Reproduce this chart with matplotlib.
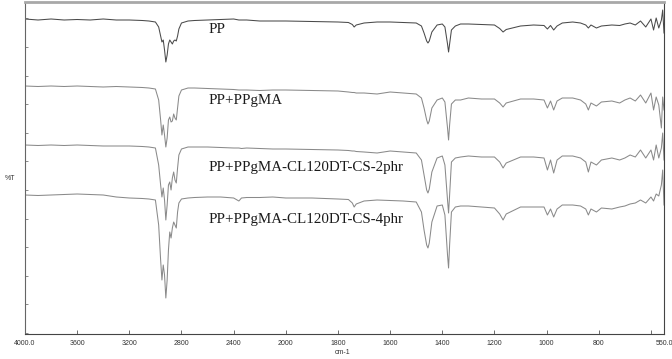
import numpy as np
import matplotlib
matplotlib.use("Agg")
import matplotlib.pyplot as plt

# wavenumber grid (cm-1), shared by all four spectra
wavenumber = [
    4000, 3900, 3800, 3700, 3600, 3500, 3400, 3300, 3200, 3100,
    3050, 3000, 2975, 2960, 2950, 2940, 2930, 2920, 2910, 2900,
    2890, 2880, 2870, 2860, 2850, 2840, 2830, 2820, 2800, 2750,
    2700, 2600, 2500, 2400, 2360, 2340, 2300, 2200, 2100, 2000,
    1900, 1800, 1760, 1745, 1738, 1730, 1700, 1650, 1600, 1550,
    1500, 1480, 1470, 1460, 1455, 1450, 1440, 1420, 1400, 1390,
    1380, 1376, 1372, 1365, 1350, 1330, 1300, 1250, 1200, 1180,
    1167, 1155, 1100, 1050, 1010, 997, 985, 973, 960, 940,
    900, 870, 850, 840, 830, 809, 790, 750, 720, 700,
    680, 660, 640, 620, 600, 590, 580, 570, 560, 555,
    550,
]

# %T (stacked, offset units)
t_pp = [
    315, 314, 315, 314, 314.5, 314, 315, 314, 314, 313.5,
    313, 312, 307, 298, 292, 294, 284, 272, 279, 290,
    294, 292, 290, 293, 294, 293, 298, 305, 311, 313,
    313.5, 314, 314.5, 315, 314, 314, 314, 313, 313, 313,
    312.5, 312, 311.5, 309.5, 307, 309, 311, 312, 312, 311.5,
    311, 308, 301, 293, 291, 293, 302, 309, 310, 307,
    290, 282, 290, 304, 308, 310, 310, 309.5, 309, 305.5,
    302, 304.5, 308, 309, 308.5, 305, 308.5, 304, 308, 311,
    312, 311, 309, 306, 309, 306, 308, 309, 308.5, 310,
    311, 309, 313, 307, 315, 304, 316, 306, 314, 324,
    301,
]
t_ppgma = [
    248, 247.5, 248, 247.5, 248, 247.5, 247, 247.5, 247, 246.5,
    246, 245, 234, 214, 199, 209, 199, 187, 196, 214,
    217, 212, 213, 220, 216, 214, 226, 238, 244, 246,
    246, 245.5, 245, 244.5, 244, 244, 244, 243.5, 244, 244,
    243.5, 243, 242, 241.5, 241.5, 241, 241, 240, 242, 241,
    240, 236, 226, 214, 210, 213, 226, 234, 236, 232,
    206, 194, 209, 230, 234, 234, 236, 235, 235, 231,
    227, 231, 235, 235, 234, 226, 233, 224, 233, 236,
    236, 234, 230, 224, 231, 228, 232, 233, 231, 234,
    236, 233, 239, 231, 241, 224, 237, 229, 206, 237,
    224,
]
t_2phr = [
    189, 188.5, 189, 188.5, 189, 188.5, 188, 188, 188, 187.5,
    187, 186, 169, 149, 137, 146, 134, 114, 129, 149,
    152, 144, 156, 162, 154, 151, 166, 179, 185, 187,
    187, 187, 186.5, 186, 186, 185.5, 186, 185.5, 185, 185,
    184.5, 184, 183.5, 183, 183, 182.5, 182, 181, 183, 182,
    181, 174, 159, 144, 141, 145, 162, 176, 178, 169,
    134, 121, 139, 172, 176, 177, 178, 177, 177, 172,
    166, 171, 177, 177, 176, 164, 174, 161, 174, 178,
    178, 176, 172, 162, 172, 169, 174, 176, 174, 176,
    179, 177, 184, 176, 184, 174, 189, 176, 186, 201,
    174,
]
t_4phr = [
    139, 138.5, 139, 139.5, 140, 139.5, 139, 137, 136, 135.5,
    135, 134, 109, 74, 54, 69, 59, 36, 54, 84,
    102, 96, 106, 112, 109, 106, 122, 131, 135, 136,
    136.5, 137, 137, 136, 133, 136, 136.5, 136.5, 137, 136,
    136, 135, 134.5, 131, 127, 130, 133, 134, 133.5, 133,
    132, 122, 104, 89, 86, 91, 112, 128, 129, 119,
    79, 66, 89, 122, 127, 128, 128, 127, 126, 120,
    114, 120, 127, 127, 127, 119, 125, 117, 125, 129,
    129, 128, 125, 119, 125, 122, 126, 125, 127, 128,
    130, 131, 134, 131, 137, 133, 140, 138, 149, 164,
    129,
]

labels = ["PP", "PP+PPgMA", "PP+PPgMA-CL120DT-CS-2phr", "PP+PPgMA-CL120DT-CS-4phr"]
label_y = [304, 233, 166, 114]

xticks = [4000, 3600, 3200, 2800, 2400, 2000, 1800, 1600, 1400, 1200, 1000, 800, 600, 550]
xticklabels = ["4000.0", "3600", "3200", "2800", "2400", "2000", "1800", "1600",
               "1400", "1200", "1000", "800", "", "550.0"]


# instrument axis: scale doubles below 2000 cm-1
def fwd(x):
    x = np.asarray(x, dtype=float)
    return np.where(x > 2000, 2000 + (x - 2000) / 2, x)


def inv(y):
    y = np.asarray(y, dtype=float)
    return np.where(y > 2000, 2000 + (y - 2000) * 2, y)


fig = plt.figure(figsize=(6.72, 3.59), dpi=100)
ax = fig.add_axes([25 / 672, 25 / 359, 639 / 672, 332 / 359])
ax.set_xscale("function", functions=(fwd, inv))

ax.plot(wavenumber, t_pp, color="#4a4a4a", lw=0.75)
ax.plot(wavenumber, t_ppgma, color="#8a8a8a", lw=0.75)
ax.plot(wavenumber, t_2phr, color="#8a8a8a", lw=0.75)
ax.plot(wavenumber, t_4phr, color="#8a8a8a", lw=0.75)

for lab, y in zip(labels, label_y):
    ax.text(2592, y, lab, family="Liberation Serif", fontsize=10.8,
            color="#1a1a1a", ha="left", va="center")

ax.set_xlim(4000, 550)
ax.set_ylim(0, 332)
ax.set_xticks(xticks)
ax.set_xticklabels(xticklabels, family="Liberation Sans", fontsize=5, color="#333333")
ax.set_yticks(np.arange(1, 330, 28.6))
ax.set_yticklabels([])
ax.minorticks_off()
ax.tick_params(axis="x", direction="in", length=3, width=0.6, pad=4.5, color="#555555")
ax.tick_params(axis="y", direction="in", length=2, width=0.6, color="#777777")

ax.spines["top"].set_color("#a8a8a8")
ax.spines["top"].set_linewidth(2)
ax.spines["right"].set_color("#444444")
ax.spines["right"].set_linewidth(0.8)
ax.spines["left"].set_color("#666666")
ax.spines["left"].set_linewidth(0.8)
ax.spines["bottom"].set_color("#444444")
ax.spines["bottom"].set_linewidth(0.8)

fig.text(343 / 672, 1 - 352 / 359, "cm-1", family="Liberation Sans", fontsize=5,
         color="#333333", ha="center", va="center")
fig.text(10 / 672, 1 - 178 / 359, "%T", family="Liberation Sans", fontsize=5,
         color="#333333", ha="center", va="center")

fig.savefig("out.png", dpi=100, facecolor="white")
